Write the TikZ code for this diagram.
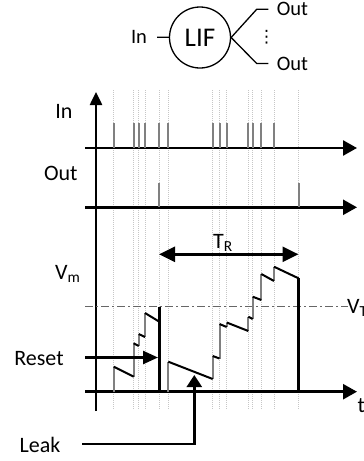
\documentclass[tikz,border=0pt]{standalone}
\usepackage{fontspec}
\setmainfont{Carlito}
\newfontfamily\symfont{DejaVu Sans}
\usetikzlibrary{arrows.meta}
\tikzset{
  lbl/.style={font=\fontsize{22}{24}\selectfont, inner sep=0pt},
  toplbl/.style={font=\fontsize{20.5}{23}\selectfont, inner sep=0pt},
  neuron/.style={circle, draw, line width=1.3pt, minimum size=61pt,
                 inner sep=0pt, font=\fontsize{27}{30}\selectfont},
  axis/.style={line width=2.5pt, -{Triangle[length=14pt,width=15pt]}},
  guide/.style={draw=gray!45, line width=0.8pt, dash pattern=on 1pt off 1pt},
  spike/.style={draw=gray, line width=2pt},
  jump/.style={draw=gray, line width=2pt},
  leak/.style={draw=black, line width=2pt},
  thresh/.style={draw=black!60, line width=1.5pt,
                 dash pattern=on 8pt off 3pt on 2pt off 3pt},
  pointer/.style={line width=2.5pt, -{Triangle[length=15pt,width=13pt]}},
}

\begin{document}
\begin{tikzpicture}[x=1pt, y=-1pt]
  \useasboundingbox (0,0) rectangle (364,461);

  % neuron symbol
  \node[neuron] (lif) at (200,37.5) {LIF};
  \node[toplbl, inner xsep=10pt] (inlbl) at (139,37) {In};
  \node[toplbl, anchor=west, inner xsep=8.4pt] (out1) at (268.3,9.3) {Out};
  \node[toplbl, anchor=west, inner xsep=8.4pt] (out2) at (268.3,63.5) {Out};
  \node[inner sep=0pt, font=\symfont\fontsize{17}{20}\selectfont] (dots) at (266.7,37) {⋮};
  \coordinate (b1) at (256.7,9.3);
  \coordinate (b2) at (256.7,63.5);
  \draw[line width=1.3pt] (inlbl) -- (lif);
  \draw[line width=1.3pt] (lif.east) -- (b1) -- (out1.west);
  \draw[line width=1.3pt] (lif.east) -- (b2) -- (out2.west);

  % time grid
  \foreach \t in {113.7,133.7,138.7,145,159,168.3,212.7,219.5,226.7,
                  248.3,252.7,261.3,274,298.5}
    \draw[guide] (\t,90) -- (\t,410);

  % axes
  \coordinate (orig) at (96,411);
  \draw[axis, -{Triangle[length=13pt,width=12pt]}] (orig) -- (96,92);
  \draw[axis] (85,148) -- (357,148);
  \draw[axis] (85,207.3) -- (357,207.3);
  \draw[axis] (85,391.7) -- (357,391.7);
  \draw[thresh] (85,306.7) -- (348,306.7);

  % input and output spikes
  \foreach \t in {113.7,133.7,138.7,145,159,168.3,212.7,219.5,226.7,
                  248.3,252.7,261.3,274}
    \draw[spike] (\t,123) -- (\t,148);
  \foreach \t in {159,298.5}
    \draw[spike] (\t,183) -- (\t,207.3);

  % membrane potential
  \draw[jump] (113.7,391.7) -- (113.7,366.7) (133.7,376.7) -- (133.7,343.3)
    (138.7,346) -- (138.7,334) (145,337) -- (145,313)
    (168.3,391.7) -- (168.3,361.7) (212.7,379) -- (212.7,356)
    (219.5,358.5) -- (219.5,324) (226.7,327) -- (226.7,322.5)
    (248.3,331) -- (248.3,316.7) (252.7,319) -- (252.7,296.7)
    (261.3,300) -- (261.3,274) (274,281) -- (274,266.7);
  \draw[leak] (113.7,366.7) -- (133.7,376.7) (133.7,343.3) -- (138.7,346)
    (138.7,334) -- (145,337) (145,313) -- (159,321.5)
    (168.3,361.7) -- (212.7,379) (212.7,356) -- (219.5,358.5)
    (219.5,324) -- (226.7,327) (226.7,322.5) -- (248.3,331)
    (248.3,316.7) -- (252.7,319) (252.7,296.7) -- (261.3,300)
    (261.3,274) -- (274,281) (274,266.7) -- (298.5,278.3);
  \draw[leak, line width=2.3pt] (159.5,306.7) -- (159.5,391.7);
  \draw[leak, line width=2.3pt] (298.5,278.3) -- (298.5,391.7);

  % refractory period
  \draw[line width=2.5pt, {Triangle[length=16pt,width=15pt]}-{Triangle[length=16pt,width=15pt]}]
    (159,254.3) -- (298.5,254.3);
  \node[lbl, anchor=base west] (tr) at (213,248) {T\textsubscript{R}};

  % labels
  \node[lbl, anchor=base] (inax) at (64,118.3) {In};
  \node[lbl, anchor=base] (outax) at (60.8,180) {Out};
  \node[lbl, anchor=base west] (vm) at (55,279) {V\textsubscript{m}};
  \node[lbl, anchor=base west] (vt) at (347,313) {V\textsubscript{T}};
  \node[lbl, anchor=base west] (tlbl) at (357.5,412) {t};
  \node[lbl, anchor=base] (reset) at (39,365) {Reset};
  \node[lbl, anchor=base] (leaklbl) at (40,452) {Leak};

  % pointers
  \coordinate (rs) at (85,357.5);
  \coordinate (re) at (158,357.5);
  \draw[pointer] (rs) -- (re);
  \coordinate (ls) at (82,444);
  \coordinate (lc) at (194.3,444);
  \coordinate (le) at (194.3,375);
  \draw[line width=2.5pt, -{Triangle[length=12pt,width=15pt]}] (ls) -- (lc) -- (le);
\end{tikzpicture}
\end{document}
